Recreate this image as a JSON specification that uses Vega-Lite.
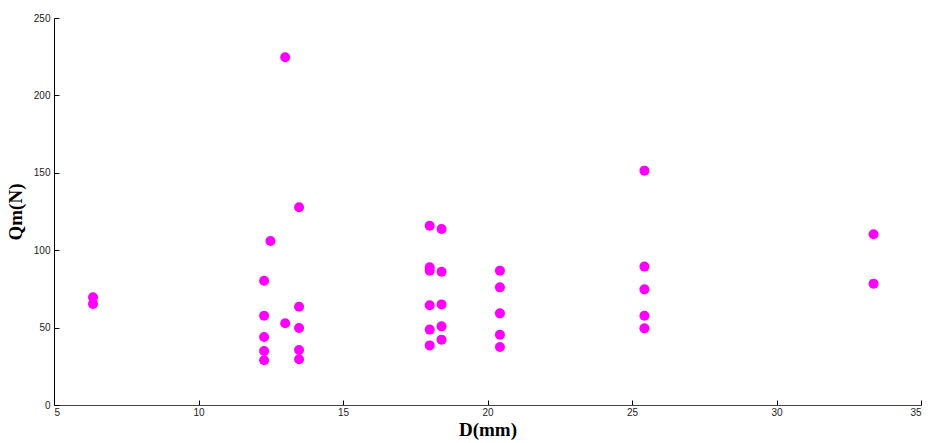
{
  "$schema": "https://vega.github.io/schema/vega-lite/v6.json",
  "width": 867,
  "height": 387,
  "autosize": "none",
  "padding": {"left": 54, "top": 18, "right": 7, "bottom": 38},
  "background": "white",
  "config": {
    "view": {"stroke": null},
    "axis": {
      "grid": false,
      "labelFont": "Liberation Sans",
      "labelFontSize": 10,
      "labelColor": "#222",
      "titleFont": "Liberation Serif",
      "titleFontSize": 19,
      "titleFontWeight": "bold",
      "titleColor": "black",
      "domainColor": "black",
      "tickColor": "black",
      "tickSize": -5
    }
  },
  "data": {
    "values": [
      {"D": 6.35, "Qm": 69.6},
      {"D": 6.35, "Qm": 65.2},
      {"D": 12.27, "Qm": 80.3},
      {"D": 12.27, "Qm": 57.7},
      {"D": 12.27, "Qm": 43.9},
      {"D": 12.27, "Qm": 34.9},
      {"D": 12.27, "Qm": 28.9},
      {"D": 12.49, "Qm": 105.9},
      {"D": 13.0, "Qm": 224.6},
      {"D": 13.0, "Qm": 52.8},
      {"D": 13.48, "Qm": 127.7},
      {"D": 13.48, "Qm": 63.5},
      {"D": 13.48, "Qm": 49.7},
      {"D": 13.48, "Qm": 35.5},
      {"D": 13.48, "Qm": 29.5},
      {"D": 18.0, "Qm": 115.8},
      {"D": 18.0, "Qm": 89.0},
      {"D": 18.0, "Qm": 86.8},
      {"D": 18.0, "Qm": 64.4},
      {"D": 18.0, "Qm": 48.7},
      {"D": 18.0, "Qm": 38.5},
      {"D": 18.41, "Qm": 113.7},
      {"D": 18.41, "Qm": 86.1},
      {"D": 18.41, "Qm": 65.0},
      {"D": 18.41, "Qm": 50.8},
      {"D": 18.41, "Qm": 42.2},
      {"D": 20.43, "Qm": 86.8},
      {"D": 20.43, "Qm": 76.0},
      {"D": 20.43, "Qm": 59.2},
      {"D": 20.43, "Qm": 45.4},
      {"D": 20.43, "Qm": 37.5},
      {"D": 25.43, "Qm": 151.4},
      {"D": 25.43, "Qm": 89.4},
      {"D": 25.43, "Qm": 74.7},
      {"D": 25.43, "Qm": 57.7},
      {"D": 25.43, "Qm": 49.5},
      {"D": 33.36, "Qm": 110.3},
      {"D": 33.36, "Qm": 78.4}
    ]
  },
  "mark": {"type": "circle", "size": 100, "color": "#FF00FF", "opacity": 1},
  "encoding": {
    "x": {
      "field": "D",
      "type": "quantitative",
      "scale": {"domain": [5, 35], "nice": false, "zero": false},
      "axis": {"title": "D(mm)", "values": [5, 10, 15, 20, 25, 30, 35], "labelPadding": 7, "titlePadding": 3, "domainColor": "#444"}
    },
    "y": {
      "field": "Qm",
      "type": "quantitative",
      "scale": {"domain": [0, 250], "nice": false},
      "axis": {"title": "Qm(N)", "values": [0, 50, 100, 150, 200, 250], "labelPadding": 9, "titlePadding": 8}
    }
  }
}
